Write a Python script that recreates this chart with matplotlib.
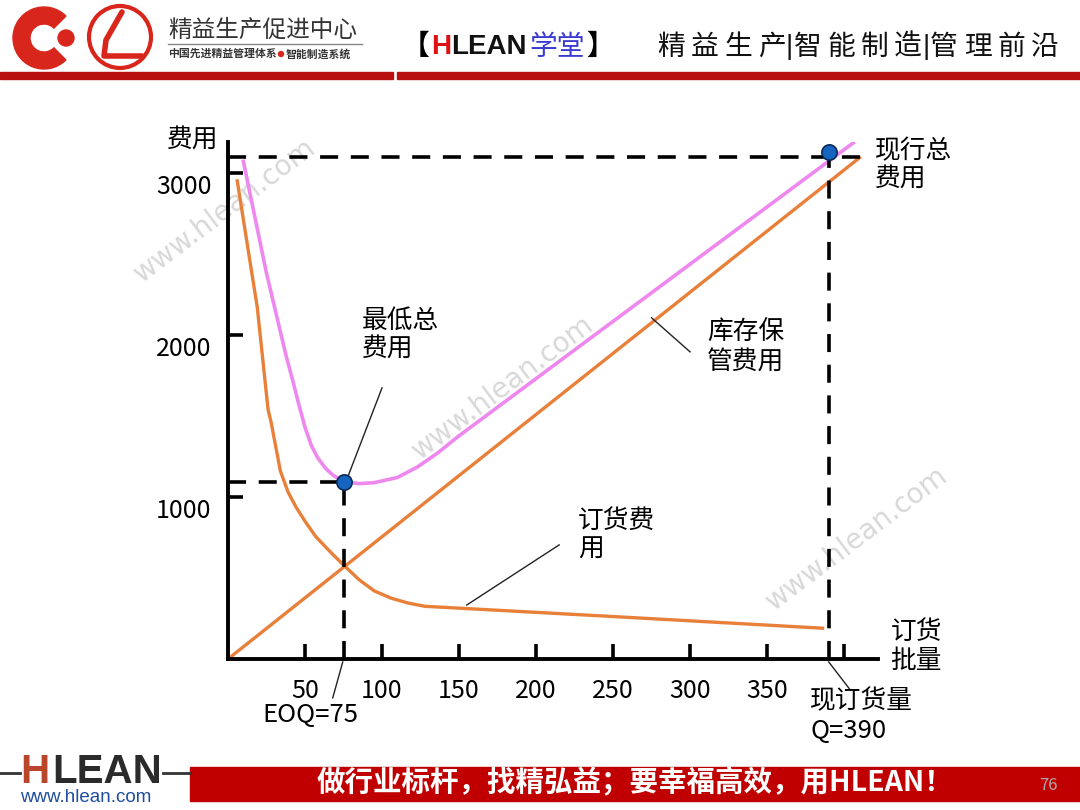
import matplotlib
matplotlib.use('Agg')
import matplotlib.pyplot as plt
import matplotlib.transforms as mtransforms
from matplotlib.patches import Wedge, Circle, Rectangle

plt.rcParams['font.family'] = ['Noto Sans CJK SC', 'DejaVu Sans']

# ---- data ----
order_q = [6, 12, 19, 26, 28, 31, 34, 39, 44, 50, 57, 66, 75, 85, 95, 106, 117, 128, 250, 386]
order_cost = [2950, 2590, 2170, 1540, 1460, 1310, 1160, 1030, 940, 850, 755, 665, 580, 490,
              420, 375, 345, 325, 262, 190]

hold_q = [0, 410]
hold_cost = [0, 3093]

total_q = [10, 25, 38, 42, 46, 50, 54, 58, 63, 68, 75, 85, 95, 110, 123, 136, 149, 406]
total_cost = [3070, 2380, 1860, 1720, 1570, 1430, 1320, 1245, 1180, 1135, 1095, 1082, 1088,
              1120, 1185, 1270, 1370, 3185]

eoq_q, eoq_cost = 75, 1090
cur_q, cur_cost = 390, 3130
cur_guide = 3095

x_ticks = [50, 100, 150, 200, 250, 300, 350, 400]
x_labels = ['50', '100', '150', '200', '250', '300', '350', '']
y_ticks = [1000, 2000, 3000]

orange = '#e8803a'
pink = '#ee88ee'

fig = plt.figure(figsize=(10.8, 8.1), dpi=100)

# background layer in pixel coords (header / footer / watermark)
bg = fig.add_axes([0, 0, 1, 1])
bg.set_xlim(0, 1080)
bg.set_ylim(810, 0)
bg.axis('off')
bg.set_zorder(0)

# header logos
bg.add_patch(Wedge((44, 38), 31, 45, 315, width=17, color='#d9261c'))
bg.add_patch(Circle((66, 38), 8, color='#d9261c'))
bg.add_patch(Circle((120, 37), 31, fill=False, ec='#d9261c', lw=3))
bg.plot([122, 106, 104, 142], [12, 40, 56, 56], color='#d9261c', lw=4, solid_capstyle='round')
bg.text(168, 30, '精益生产促进中心', fontsize=17, va='center', color='#333333')
bg.plot([168, 362], [44, 44], color='#888888', lw=1)
bg.text(168, 54, '中国先进精益管理体系', fontsize=7.8, va='center', fontweight='bold', color='#333333')
bg.add_patch(Circle((281, 54), 2.5, color='#d9261c'))
bg.text(286, 54, '智能制造系统', fontsize=7.8, va='center', fontweight='bold', color='#333333')

latin = ['Liberation Sans', 'DejaVu Sans']
bg.text(402, 47, '【', fontsize=20, va='center', fontweight='bold', color='black')
bg.text(431, 47, 'H', fontsize=20, va='center', fontweight='bold', color='#e01010', family=latin)
bg.text(451, 47, 'LEAN', fontsize=20, va='center', fontweight='bold', color='#111111', family=latin)
bg.text(529, 47, '学堂', fontsize=20, va='center', color='#3a3ad0')
bg.text(586, 47, '】', fontsize=20, va='center', fontweight='bold', color='black')

right_title = '精益生产|智能制造|管理前沿'
px = 671
for ch in right_title:
    if ch == '|':
        px -= 15.5
        bg.text(px, 47, ch, fontsize=20, va='center', ha='center', color='#111111', family=latin)
        px += 18
    else:
        bg.text(px, 47, ch, fontsize=20, va='center', ha='center', color='#111111')
        px += 33.5

bg.add_patch(Rectangle((0, 72), 393, 7, color='#b80f0f'))
bg.add_patch(Rectangle((397, 72), 683, 7, color='#b80f0f'))

# footer
bg.plot([0, 20], [773, 773], color='#333333', lw=2)
bg.plot([163, 190], [773, 773], color='#333333', lw=2)
bg.text(20, 772, 'H', fontsize=29, va='center', fontweight='bold', color='#b8452c', family=latin)
bg.text(52, 772, 'LEAN', fontsize=29, va='center', fontweight='bold', color='#2b2b2b', family=latin)
bg.text(20, 798, 'www.hlean.com', fontsize=13.5, va='center', color='#1f4ea0', family=latin)
bg.add_patch(Rectangle((190, 767), 890, 34, color='#c00000'))
bg.text(635, 783, '做行业标杆，找精弘益；要幸福高效，用HLEAN！', fontsize=20.5, va='center',
        ha='center', fontweight='bold', color='white')
bg.text(1048, 785, '76', fontsize=12, va='center', ha='center', color='#aaaaaa')

# watermarks
for wx, wy in [(225, 210), (503, 387), (857, 538)]:
    bg.text(wx, wy, 'www.hlean.com', fontsize=20, rotation=37, ha='center', va='center',
            color='#d8d8d8', family=['DejaVu Sans'])

# main chart
ax = fig.add_axes([228 / 1080, (810 - 659) / 810, 650 / 1080, 517 / 810])
ax.set_zorder(1)
ax.patch.set_alpha(0)
ax.set_xlim(0, 422)
ax.set_ylim(0, 3190)
for s in ['top', 'right']:
    ax.spines[s].set_visible(False)
for s in ['left', 'bottom']:
    ax.spines[s].set_linewidth(2.8)

ax.plot(order_q, order_cost, color=orange, lw=2.4, solid_joinstyle='round')
ax.plot(hold_q, hold_cost, color=orange, lw=2.4)
ax.plot(total_q, total_cost, color=pink, lw=2.6, solid_joinstyle='round')

dash = dict(color='black', lw=2.6, dashes=(5, 3.5))
ax.plot([0, eoq_q], [eoq_cost, eoq_cost], **dash)
ax.plot([eoq_q, eoq_q], [0, eoq_cost], **dash)
ax.plot([0, hold_q[1]], [cur_guide, cur_guide], **dash)
ax.plot([cur_q, cur_q], [0, cur_guide], **dash)
ax.plot([eoq_q, cur_q], [eoq_cost, cur_cost], 'o', ms=11, mfc='#1565c0', mec='#0d2a55',
        mew=1.2, zorder=5)

ax.set_xticks(x_ticks)
ax.set_xticklabels(x_labels)
ax.set_yticks(y_ticks)
ax.tick_params(axis='x', direction='in', length=11, width=2.6, pad=14, labelsize=18)
ax.tick_params(axis='y', direction='in', length=11, width=2.6, pad=12, labelsize=18)
# the y labels sit a little below their ticks in the original
shift = mtransforms.ScaledTranslation(0, -11 / 100, fig.dpi_scale_trans)
for lab in ax.get_yticklabels():
    lab.set_transform(lab.get_transform() + shift)

tk = dict(fontsize=18.5, va='center', ha='left', linespacing=1.15, clip_on=False)
ax.text(-23, 3200, '费用', fontsize=18.5, va='center', ha='center', clip_on=False)
ax.text(87, 2000, '最低总\n费用', **tk)
ax.plot([100, 77.5], [1673, 1117], color='#222222', lw=1)
ax.text(311, 1920, '库存保\n管费用', **tk)
ax.plot([300, 275], [1895, 2105], color='#222222', lw=1)
ax.text(227, 765, '订货费\n用', **tk)
ax.plot([215, 155], [704, 333], color='#222222', lw=1)
ax.text(420, 3045, '现行总\n费用', **tk)
ax.text(430, 80, '订货\n批量', **tk)
ax.text(22, -346, 'EOQ=75', **tk)
ax.plot([74.5, 68], [-18, -240], color='#222222', lw=1, clip_on=False)
ax.text(378, -352, '现订货量\nQ=390', **tk)
ax.plot([390, 404], [-18, -191], color='#222222', lw=1, clip_on=False)

fig.savefig('out.png', dpi=100)
